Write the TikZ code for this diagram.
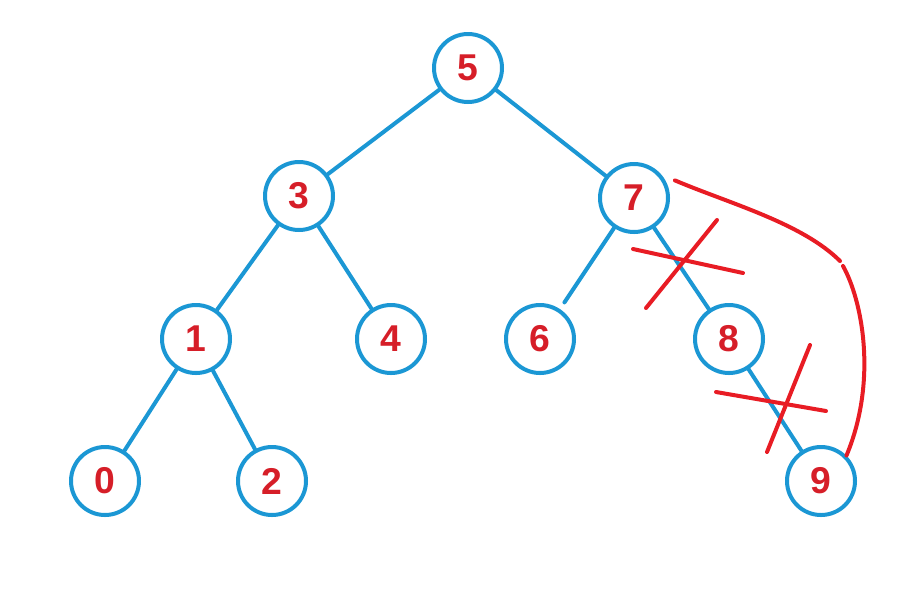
\documentclass[tikz,border=0pt]{standalone}
\usepackage{fontspec}
\setmainfont{Liberation Sans}
\definecolor{treeblue}{RGB}{27,151,212}
\definecolor{penred}{RGB}{232,28,36}
\definecolor{digitred}{RGB}{214,30,40}

\begin{document}
\begin{tikzpicture}[
  x=0.75pt,
  y=-0.75pt,
  line cap=round,
  line join=round,
  vertex/.style={
    circle,
    draw=treeblue,
    line width=3pt,
    minimum size=51pt,
    inner sep=0pt,
    font=\fontsize{28}{30}\selectfont\bfseries,
    text=digitred
  },
  edge/.style={draw=treeblue, line width=3pt},
  strike/.style={draw=penred, line width=3pt}
]
  % Рамка рисунка
  \useasboundingbox (0,0) rectangle (916,594);

  % Вершины дерева
  \node[vertex] (n5) at (468,68)  {5};
  \node[vertex] (n3) at (299,196) {3};
  \node[vertex] (n7) at (634,198) {7};
  \node[vertex] (n1) at (196,339) {1};
  \node[vertex] (n4) at (391,339) {4};
  \node[vertex] (n6) at (540,339) {6};
  \node[vertex] (n8) at (729,339) {8};
  \node[vertex] (n0) at (105,481) {0};
  \node[vertex] (n2) at (272,481) {2};
  \node[vertex] (n9) at (821,481) {9};

  % Рёбра
  \draw[edge] (n5) -- (n3);
  \draw[edge] (n5) -- (n7);
  \draw[edge] (n3) -- (n1);
  \draw[edge] (n3) -- (n4);
  \draw[edge,shorten >=6pt] (n7) -- (n6);
  \draw[edge] (n7) -- (n8);
  \draw[edge] (n1) -- (n0);
  \draw[edge] (n1) -- (n2);
  \draw[edge] (n8) -- (n9);

  % Перечёркнутые рёбра
  \draw[strike] (633,249) -- (743,273);
  \draw[strike] (717,220) -- (646,308);
  \draw[strike] (716,392) -- (826,411);
  \draw[strike] (810,345) -- (767,452);

  % Новая связь 7 -- 9 (с разрывом)
  \coordinate (jumpA) at ([shift={(8,-3)}]n7.24);
  \coordinate (gapA) at (840,261);
  \coordinate (gapB) at (843,266);
  \draw[strike]
    (jumpA) .. controls (728,203) and (802,223) .. (gapA);
  \draw[strike]
    (gapB) .. controls (862,300) and (878,380) .. (n9.45);
\end{tikzpicture}
\end{document}
